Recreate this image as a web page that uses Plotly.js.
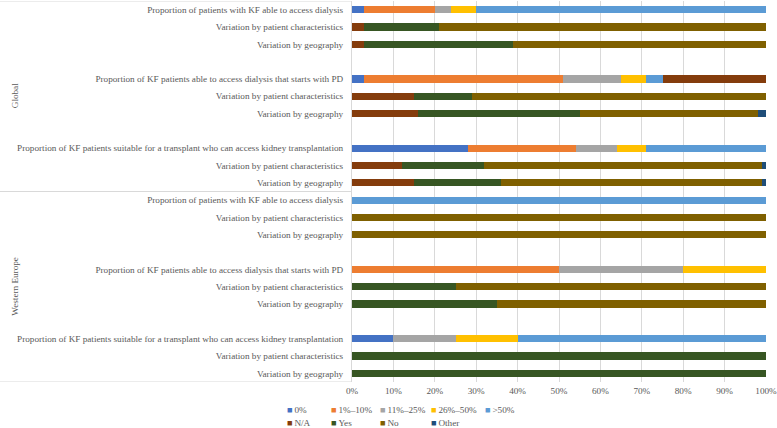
<!DOCTYPE html>
<html>
<head>
<meta charset="utf-8">
<script src="https://cdn.plot.ly/plotly-3.0.1.min.js"></script>
<style>
  html, body { margin: 0; padding: 0; background: #fff; }
  #graph { width: 777px; height: 428px; }
</style>
</head>
<body>
<div id="graph"></div>
<script>
document.addEventListener('DOMContentLoaded', main, false);

// row labels, top to bottom
var rowLabels = [
    "Proportion of patients with KF able to access dialysis",
    "Variation by patient characteristics",
    "Variation by geography",
    "Proportion of KF patients able to access dialysis that starts with PD",
    "Variation by patient characteristics",
    "Variation by geography",
    "Proportion of KF patients suitable for a transplant who can access kidney transplantation",
    "Variation by patient characteristics",
    "Variation by geography",
    "Proportion of patients with KF able to access dialysis",
    "Variation by patient characteristics",
    "Variation by geography",
    "Proportion of KF patients able to access dialysis that starts with PD",
    "Variation by patient characteristics",
    "Variation by geography",
    "Proportion of KF patients suitable for a transplant who can access kidney transplantation",
    "Variation by patient characteristics",
    "Variation by geography"
];
// slot of each row (blank slots between blocks)
var rowSlots = [0, 1, 2, 4, 5, 6, 8, 9, 10, 11, 12, 13, 15, 16, 17, 19, 20, 21];
var groups = ["Global", "Western Europe"];
var groupSlots = [[0, 10], [11, 21]];

var seriesNames = ["0%", "1%\u201310%", "11%\u201325%", "26%\u201350%", ">50%", "N/A", "Yes", "No", "Other"];
var seriesColors = ["#4472C4", "#ED7D31", "#A5A5A5", "#FFC000", "#5B9BD5", "#843C0C", "#375623", "#7F6000", "#1F4E79"];

var pct0     = [3, 0, 0, 3, 0, 0, 28, 0, 0, 0, 0, 0, 0, 0, 0, 10, 0, 0];
var pct1_10  = [17, 0, 0, 48, 0, 0, 26, 0, 0, 0, 0, 0, 50, 0, 0, 0, 0, 0];
var pct11_25 = [4, 0, 0, 14, 0, 0, 10, 0, 0, 0, 0, 0, 30, 0, 0, 15, 0, 0];
var pct26_50 = [6, 0, 0, 6, 0, 0, 7, 0, 0, 0, 0, 0, 20, 0, 0, 15, 0, 0];
var pct50up  = [70, 0, 0, 4, 0, 0, 29, 0, 0, 100, 0, 0, 0, 0, 0, 60, 0, 0];
var na       = [0, 3, 3, 25, 15, 16, 0, 12, 15, 0, 0, 0, 0, 0, 0, 0, 0, 0];
var yes      = [0, 18, 36, 0, 14, 39, 0, 20, 21, 0, 0, 0, 0, 25, 35, 0, 100, 100];
var no       = [0, 79, 61, 0, 71, 43, 0, 67, 63, 0, 100, 100, 0, 75, 65, 0, 0, 0];
var other    = [0, 0, 0, 0, 0, 2, 0, 1, 1, 0, 0, 0, 0, 0, 0, 0, 0, 0];

var xTicks = [0, 10, 20, 30, 40, 50, 60, 70, 80, 90, 100];

function main() {
    var W = 777, H = 428;
    var mL = 352, mR = 11, mT = 1, mB = 46;
    var plotW = W - mL - mR;
    var plotH = H - mT - mB;
    var leftEdge = -mL / plotW;
    var textCol = "#595959";
    var font = "'Liberation Serif', 'Times New Roman', serif";
    var fs = 9.2;

    var allSeries = [pct0, pct1_10, pct11_25, pct26_50, pct50up, na, yes, no, other];
    var data = [];
    for (let i = 0; i < allSeries.length; i++) {
        data.push({
            type: 'bar',
            orientation: 'h',
            name: seriesNames[i],
            x: allSeries[i],
            y: rowSlots,
            marker: {color: seriesColors[i]},
            showlegend: false,
            hoverinfo: 'x+name'
        });
    }

    // Excel-like legend: one small legend per entry, key drawn as a coloured square glyph
    var legX = [287, 331, 380, 431, 485, 287, 331, 380, 431];
    var legY = [409, 409, 409, 409, 409, 422, 422, 422, 422];
    var legends = {};
    for (let i = 0; i < seriesNames.length; i++) {
        var key = i == 0 ? 'legend' : 'legend' + (i + 1);
        data.push({
            type: 'scatter',
            mode: 'markers',
            name: '<span style="color:' + seriesColors[i] + '">\u25A0</span>\u2009' + seriesNames[i],
            x: [null],
            y: [null],
            marker: {color: 'rgba(0,0,0,0)', size: 1},
            legend: key,
            showlegend: true,
            hoverinfo: 'skip'
        });
        legends[key] = {
            orientation: 'h',
            x: (legX[i] - 40 - mL) / plotW, xanchor: 'left',
            y: (mT + plotH - legY[i]) / plotH, yanchor: 'middle',
            font: {family: font, size: fs, color: textCol},
            bgcolor: 'rgba(0,0,0,0)',
            borderwidth: 0
        };
    }

    var shapes = [];
    var lineYs = [-0.5, 10.5, 21.5];
    for (let i = 0; i < lineYs.length; i++) {
        shapes.push({
            type: 'line', xref: 'paper', yref: 'y',
            x0: leftEdge, x1: 0, y0: lineYs[i], y1: lineYs[i],
            line: {color: '#d9d9d9', width: 1}
        });
    }

    var annotations = [];
    for (let g = 0; g < groups.length; g++) {
        annotations.push({
            text: groups[g],
            xref: 'paper', yref: 'y',
            x: (8 - mL) / plotW,
            y: (groupSlots[g][0] + groupSlots[g][1]) / 2,
            textangle: -90,
            showarrow: false,
            font: {family: font, size: fs, color: textCol}
        });
    }

    var layout = {
        width: W, height: H,
        margin: {l: mL, r: mR, t: mT, b: mB, autoexpand: false},
        barmode: 'stack',
        bargap: 0.58,
        paper_bgcolor: '#ffffff',
        plot_bgcolor: '#ffffff',
        font: {family: font, size: fs, color: textCol},
        xaxis: {
            range: [0, 100],
            tickmode: 'array',
            tickvals: xTicks,
            ticktext: xTicks.map(function(v) { return v + '%'; }),
            showgrid: true,
            gridcolor: '#d9d9d9',
            gridwidth: 1,
            zeroline: false,
            showline: false,
            ticks: '',
            ticklabelstandoff: 2,
            ticklabeloverflow: 'allow',
            tickfont: {family: font, size: fs, color: textCol},
            fixedrange: true
        },
        yaxis: {
            range: [21.5, -0.5],
            tickmode: 'array',
            tickvals: rowSlots,
            ticktext: rowLabels,
            showgrid: false,
            zeroline: false,
            showline: true,
            linecolor: '#d9d9d9',
            linewidth: 1,
            ticks: '',
            ticklabelstandoff: 6,
            tickfont: {family: font, size: fs, color: textCol},
            fixedrange: true
        },
        shapes: shapes,
        annotations: annotations
    };
    for (var k in legends) layout[k] = legends[k];
    Plotly.newPlot('graph', data, layout, {displayModeBar: false, staticPlot: true});
}
</script>
</body>
</html>
